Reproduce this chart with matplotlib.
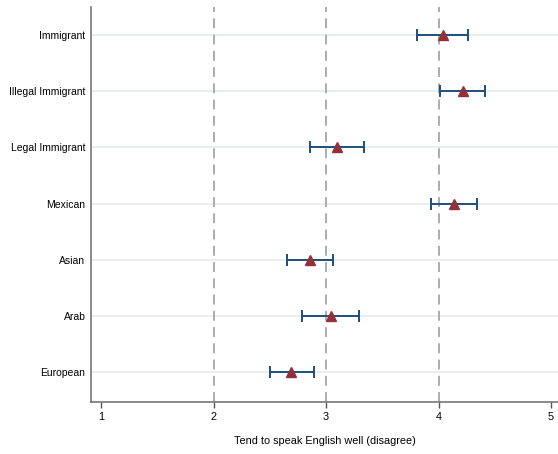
import matplotlib
matplotlib.use("Agg")
import matplotlib.pyplot as plt

categories = ["Immigrant", "Illegal Immigrant", "Legal Immigrant", "Mexican", "Asian", "Arab", "European"]
means = [4.04, 4.22, 3.10, 4.14, 2.86, 3.04, 2.69]
lower = [3.81, 4.01, 2.86, 3.93, 2.65, 2.79, 2.50]
upper = [4.26, 4.41, 3.34, 4.34, 3.06, 3.29, 2.89]
xticks = [1, 2, 3, 4, 5]
ref_lines = [2, 3, 4]
xlabel = "Tend to speak English well (disagree)"

plt.rcParams['font.family'] = ['Liberation Sans', 'DejaVu Sans']

fig = plt.figure(figsize=(5.58, 4.54), dpi=100)
ax = fig.add_axes([91/558, 52/454, 467/558, 395/454])

n = len(categories)
ypos = [n - i for i in range(n)]

for y in ypos:
    ax.axhline(y, color='#e6eef1', lw=1.3, zorder=0)
for x in ref_lines:
    ax.axvline(x, color='#a6a6a6', lw=1.3, ls=(0, (5.5, 3.5)), zorder=1)

for y, m, lo, hi in zip(ypos, means, lower, upper):
    ax.errorbar([m], [y], xerr=[[m - lo], [hi - m]], fmt='none', ecolor='#1f4e79',
                elinewidth=1.4, capsize=4, capthick=1.4, zorder=2)
ax.plot(means, ypos, ls='none', marker='^', ms=7.5, color='#93313a',
        markeredgecolor='#93313a', zorder=3)

ax.set_xlim(0.911, 5.062)
ax.set_ylim(0.47, 7.5)
ax.set_xticks(xticks)
ax.set_xticklabels([str(t) for t in xticks], fontsize=7.8)
ax.set_yticks(ypos)
ax.set_yticklabels(categories, fontsize=7.5)
ax.tick_params(axis='y', length=0, pad=4)
ax.tick_params(axis='x', length=4, width=1, color='#555555', pad=3)
ax.set_xlabel(xlabel, fontsize=7.8, labelpad=10)

for s in ['top', 'right']:
    ax.spines[s].set_visible(False)
for s in ['left', 'bottom']:
    ax.spines[s].set_color('#777777')
    ax.spines[s].set_linewidth(1.2)

fig.savefig("out.png", dpi=100)
